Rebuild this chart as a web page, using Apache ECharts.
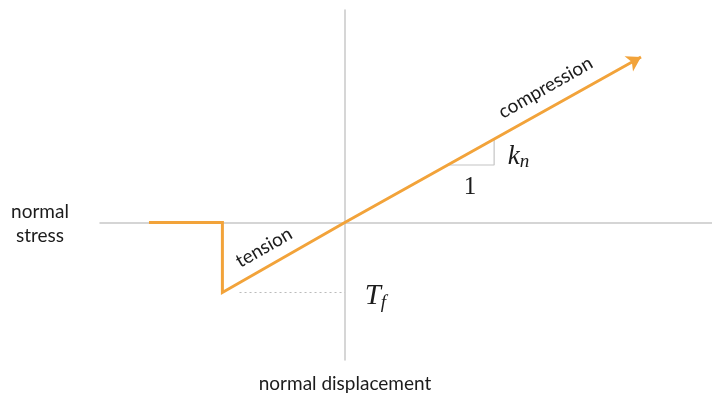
<!DOCTYPE html>
<html>
<head>
<meta charset="utf-8">
<script src="https://cdn.jsdelivr.net/npm/echarts@6/dist/echarts.min.js"></script>
<style>
  html, body { margin: 0; padding: 0; background: #fff; }
  #chart { width: 712px; height: 394px; }
</style>
</head>
<body>
<div id="chart"></div>
<script>
// Normal stress vs. normal displacement for a joint with tensile cut-off
const xRange = [-10, 15];
const yRange = [-5.5, 8.5];

// Constitutive path: zero stress after failure, drop at tensile strength, linear elastic branch
const pathX = [-8, -5, -5, 0, 12.1];
const pathY = [0, 0, -2.8, 0, 6.62];

// Tensile strength guide (dotted)
const tfGuideX = [-4.3, 0];
const tfGuideY = [-2.8, -2.8];

// Slope triangle for the normal stiffness kn
const slopeTriX = [4.2, 6.1, 6.1];
const slopeTriY = [2.3, 2.3, 3.34];

// Annotation anchors in data units
const annotations = [
  { key: 'tension', text: 'tension', x: -3.3, y: -1.0, rotate: 0.52 },
  { key: 'compression', text: 'compression', x: 8.2, y: 5.4, rotate: 0.52 },
  { key: 'kn', text: '{i|k}{s|n}', x: 7.1, y: 2.62 },
  { key: 'one', text: '1', x: 5.11, y: 1.42 },
  { key: 'tf', text: '{i|T}{s|f}', x: 1.25, y: -2.94 }
];

const orange = '#F2A33A';
const grey = '#c8c8c8';
const ink = '#1c1c1c';
const sans = 'Lato, "Open Sans", sans-serif';
const serif = '"Liberation Serif", "DejaVu Serif", serif';

const zip = (xs, ys) => xs.map((x, i) => [x, ys[i]]);

const chart = echarts.init(document.getElementById('chart'), null, { renderer: 'canvas' });

const baseOption = {
  animation: false,
  grid: { left: 100, right: 0, top: 10, bottom: 34 },
  xAxis: {
    type: 'value', min: xRange[0], max: xRange[1],
    axisLine: { show: true, onZero: true, lineStyle: { color: grey, width: 1.5 } },
    axisTick: { show: false }, axisLabel: { show: false }, splitLine: { show: false }
  },
  yAxis: {
    type: 'value', min: yRange[0], max: yRange[1],
    axisLine: { show: true, onZero: true, lineStyle: { color: grey, width: 1.5 } },
    axisTick: { show: false }, axisLabel: { show: false }, splitLine: { show: false }
  },
  series: [
    {
      type: 'line', data: zip(tfGuideX, tfGuideY), showSymbol: false, silent: true,
      lineStyle: { color: '#bbb', width: 1, type: [2, 3] }
    },
    {
      type: 'line', data: zip(slopeTriX, slopeTriY), showSymbol: false, silent: true,
      lineStyle: { color: '#c4c4c4', width: 1.2 }
    },
    {
      type: 'line', data: zip(pathX, pathY), showSymbol: false, silent: true,
      lineStyle: { color: orange, width: 3, join: 'miter' }
    }
  ]
};
chart.setOption(baseOption);

function placeAnnotations() {
  // arrow head aligned with the last segment of the path
  const n = pathX.length;
  const p0 = chart.convertToPixel({ gridIndex: 0 }, [pathX[n - 2], pathY[n - 2]]);
  const p1 = chart.convertToPixel({ gridIndex: 0 }, [pathX[n - 1], pathY[n - 1]]);
  const ang = Math.atan2(-(p1[1] - p0[1]), p1[0] - p0[0]) * 180 / Math.PI;

  const elements = annotations.map(a => {
    const [px, py] = chart.convertToPixel({ gridIndex: 0 }, [a.x, a.y]);
    const isMath = a.key === 'kn' || a.key === 'tf' || a.key === 'one';
    return {
      type: 'text', x: px, y: py, rotation: a.rotate || 0,
      style: {
        text: a.text, fill: ink, align: 'center', verticalAlign: 'middle',
        font: isMath ? '25px ' + serif : '19px ' + sans,
        rich: {
          i: { fontFamily: serif, fontStyle: 'italic', fontSize: a.key === 'tf' ? 29 : 27, fill: ink },
          s: { fontFamily: serif, fontStyle: 'italic', fontSize: 19, fill: ink, padding: [a.key === 'tf' ? 14 : 9, 0, 0, 0] }
        }
      }
    };
  });
  elements.push(
    { type: 'text', x: 40, y: 212, style: { text: 'normal', font: '19px ' + sans, fill: ink, align: 'center', verticalAlign: 'middle' } },
    { type: 'text', x: 40, y: 236, style: { text: 'stress', font: '19px ' + sans, fill: ink, align: 'center', verticalAlign: 'middle' } },
    { type: 'text', x: 345, y: 384, style: { text: 'normal displacement', font: '19px ' + sans, fill: ink, align: 'center', verticalAlign: 'middle' } }
  );

  chart.setOption({
    graphic: elements,
    series: [{}, {}, {}, {
      type: 'scatter', silent: true, z: 5,
      data: [[pathX[n - 1], pathY[n - 1]]],
      symbol: 'arrow', symbolSize: [13, 14], symbolRotate: ang - 90,
      itemStyle: { color: orange, opacity: 1 }
    }]
  });
}
placeAnnotations();
</script>
</body>
</html>
